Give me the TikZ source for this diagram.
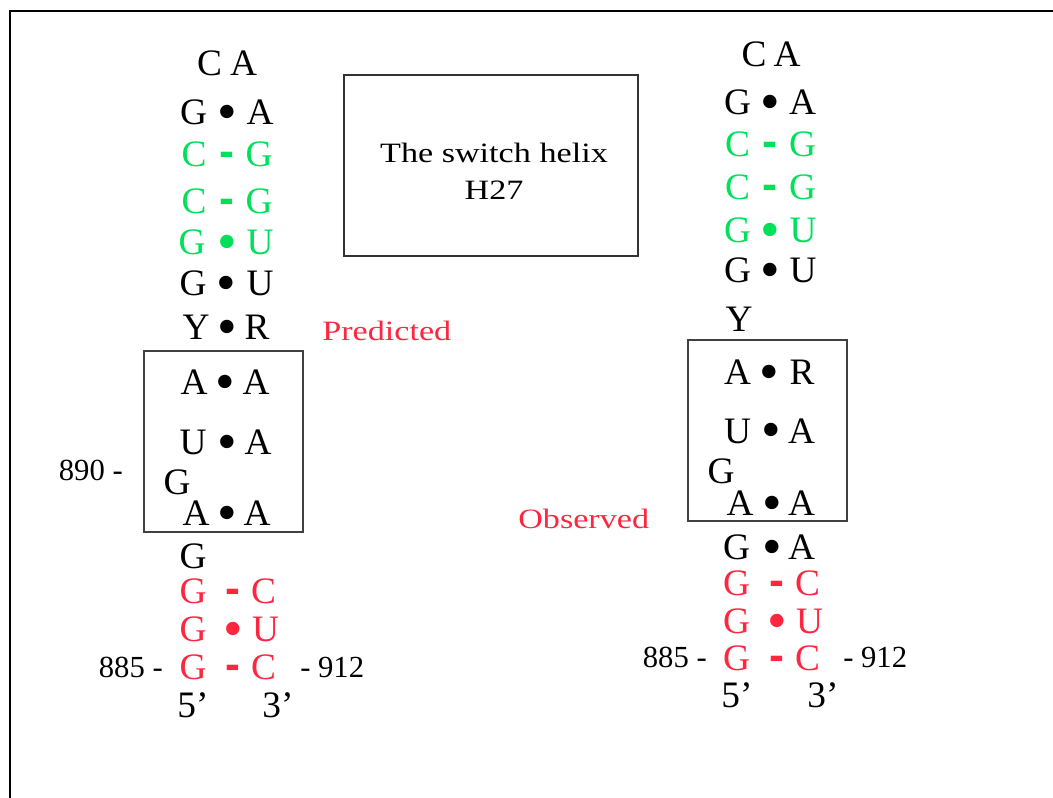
\documentclass[tikz,border=0pt]{standalone}
\usepackage{graphicx}
\usepackage{fontspec}
\setmainfont{Liberation Serif}
\newfontfamily\labfont[FakeStretch=1.22]{Liberation Serif}
\newfontfamily\barfont{Liberation Sans}
\definecolor{rnared}{RGB}{255,38,64}
\definecolor{rnagreen}{RGB}{0,224,90}

% one text node: #1 options, #2 name, #3 x, #4 y, #5 text
\newcommand\shtext[5]{\node[#1] (#2) at (#3,#4) {#5};}
% a base pair: #1 name, #2 baseline, #3/#4/#5 x of left, link, right, #6 left, #7 link, #8 right, #9 colour
\newcommand\pairrow[9]{%
  \shtext{nt,text=#9}{#1l}{#3}{#2}{#6}%
  \shtext{nt,text=#9}{#1m}{#4}{#2}{#7}%
  \shtext{nt,text=#9}{#1r}{#5}{#2}{#8}}
% Watson-Crick bar and wobble/non-canonical dot
\newcommand\wc{\scalebox{1.2}{\barfont\bfseries -}}
\newcommand\gu{\raisebox{-4.5pt}[9pt][0pt]{\scalebox{1.5}{\textbullet}}}

\begin{document}
\begin{tikzpicture}[x=0.75pt,y=-0.75pt,
  nt/.style={anchor=base,inner sep=0pt,font=\fontsize{28}{30}\selectfont},
  numlab/.style={inner sep=0pt,font=\fontsize{23}{25}\selectfont},
  lab/.style={inner sep=0pt,font=\labfont\fontsize{21}{24}\selectfont},
  motif/.style={draw=black!75,line width=1.3pt}]
\useasboundingbox (0,0) rectangle (1053,798);
\begin{scope}
\clip (0,0) rectangle (1053,798);
\draw[line width=1.5pt] (9.5,805) -- (9.5,11.5) -- (1060,11.5);
\end{scope}

% ---------- predicted structure ----------
\shtext{nt}{pC}{209.5}{76}{C}
\shtext{nt}{pA}{243.5}{76}{A}
\pairrow{pa}{125}{193.5}{227}{260}{G}{\gu}{A}{black}
\pairrow{pb}{167}{194}{227}{259}{C}{\wc}{G}{rnagreen}
\pairrow{pc}{214}{194}{227}{259}{C}{\wc}{G}{rnagreen}
\pairrow{pd}{255}{192}{227}{260}{G}{\gu}{U}{rnagreen}
\pairrow{pe}{296}{193}{226}{260}{G}{\gu}{U}{black}
\pairrow{pf}{340}{196}{227}{257}{Y}{\gu}{R}{black}
\draw[motif] (144,351) rectangle (303,532);
\pairrow{pg}{395}{194}{225}{256}{A}{\gu}{A}{black}
\pairrow{ph}{455}{193}{227}{258}{U}{\gu}{A}{black}
\shtext{nt}{pG1}{177}{494}{G}
\pairrow{pi}{525}{196}{227}{257}{A}{\gu}{A}{black}
\shtext{nt}{pG2}{193}{568}{G}
\pairrow{pj}{603}{193}{232.5}{263.5}{G}{\wc}{C}{rnared}
\pairrow{pk}{641}{193}{233}{265.5}{G}{\gu}{U}{rnared}
\pairrow{pl}{679}{193}{232.5}{263.5}{G}{\wc}{C}{rnared}
\shtext{nt}{p5}{193}{717}{5’}
\shtext{nt}{p3}{278}{717}{3’}
\shtext{numlab,anchor=base east}{p890}{123}{480}{890 -}
\shtext{numlab,anchor=base east}{p885}{163}{677}{885 -}
\shtext{numlab,anchor=base west}{p912}{300}{677}{- 912}

% ---------- observed structure ----------
\shtext{nt}{oC}{754}{67}{C}
\shtext{nt}{oA}{787}{67}{A}
\pairrow{oa}{115}{737.5}{770}{802.5}{G}{\gu}{A}{black}
\pairrow{ob}{157}{737.5}{770}{802.5}{C}{\wc}{G}{rnagreen}
\pairrow{oc}{200}{737.5}{770}{802.5}{C}{\wc}{G}{rnagreen}
\pairrow{od}{243}{737.5}{770}{803}{G}{\gu}{U}{rnagreen}
\pairrow{oe}{283}{737.5}{770}{803}{G}{\gu}{U}{black}
\shtext{nt}{oY}{739}{332}{Y}
\draw[motif] (688,340) rectangle (847,521);
\pairrow{of}{385}{737.5}{769}{802}{A}{\gu}{R}{black}
\pairrow{og}{443}{737.5}{771}{801.5}{U}{\gu}{A}{black}
\shtext{nt}{oG1}{721}{483}{G}
\pairrow{oh}{515}{740}{772}{801.5}{A}{\gu}{A}{black}
\pairrow{oi}{559}{736.5}{772}{801.5}{G}{\gu}{A}{black}
\pairrow{oj}{595}{736.5}{777}{807.5}{G}{\wc}{C}{rnared}
\pairrow{ok}{633}{736.5}{777}{809.5}{G}{\gu}{U}{rnared}
\pairrow{ol}{670}{736.5}{777}{807.5}{G}{\wc}{C}{rnared}
\shtext{nt}{o5}{737}{707}{5’}
\shtext{nt}{o3}{823}{707}{3’}
\shtext{numlab,anchor=base east}{o885}{707}{667}{885 -}
\shtext{numlab,anchor=base west}{o912}{843}{667}{- 912}

% ---------- title and labels ----------
\draw[black!80,line width=1pt] (344,75) rectangle (638,256);
\node[lab,anchor=base] (title1) at (494,163) {The switch helix};
\node[lab,anchor=base] (title2) at (494,200) {H27};
\shtext{lab,anchor=base west,text=rnared}{pred}{322}{341}{Predicted}
\shtext{lab,anchor=base west,text=rnared}{obs}{518}{528}{Observed}
\end{tikzpicture}
\end{document}
